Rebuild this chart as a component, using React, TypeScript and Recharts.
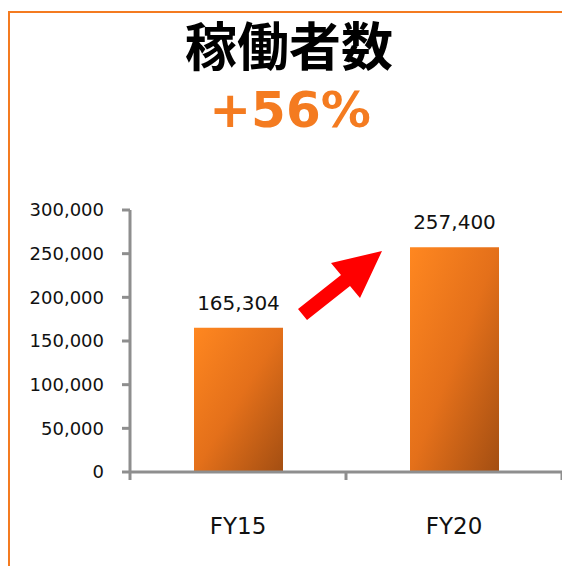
import { BarChart, Bar, XAxis, YAxis, LabelList } from "recharts";

// values
const categories = ["FY15", "FY20"];
const workers = [165304, 257400];
const yTicks = [0, 50000, 100000, 150000, 200000, 250000, 300000];

const title = "稼働者数";
const growth = "+56%";

const data = categories.map((name, i) => ({ name, value: workers[i] }));

const W = 562;
const H = 566;
const plotLeft = 130;
const plotTop = 210;
const plotBottom = 472;
const axisColor = "#8e8e8e";
const font = "'DejaVu Sans', Verdana, sans-serif";

const fmt = (v: number) => v.toLocaleString("en-US");

// x ticks sit on the category boundaries, labels under the centre
function XTick(props: any) {
    const { x, payload, index } = props;
    const band = (W - plotLeft) / categories.length;
    const left = x - band / 2;
    return (
        <g>
            <line x1={left} x2={left} y1={plotBottom} y2={plotBottom + 8} stroke={axisColor} strokeWidth={3} />
            {index === categories.length - 1 && (
                <line x1={left + band} x2={left + band} y1={plotBottom} y2={plotBottom + 8} stroke={axisColor} strokeWidth={3} />
            )}
            <text x={x} y={plotBottom + 62} textAnchor="middle" fontSize={23} fontFamily={font} fill="#111">
                {payload.value}
            </text>
        </g>
    );
}

export default function App() {
    return (
        <div style={{ position: "absolute", left: 0, top: 0, width: W, height: H, overflow: "hidden", background: "#fff" }}>
            {/* orange frame */}
            <div
                style={{
                    position: "absolute",
                    left: 8,
                    top: 11,
                    width: 620,
                    height: 620,
                    border: "2.5px solid #f47b20",
                    boxSizing: "border-box",
                }}
            />
            <div
                style={{
                    position: "absolute",
                    left: 0,
                    width: 578,
                    top: 18,
                    textAlign: "center",
                    fontFamily: "'Noto Sans CJK JP', sans-serif",
                    fontWeight: 700,
                    fontSize: 52,
                    lineHeight: 1,
                    color: "#000",
                }}
            >
                {title}
            </div>
            <div
                style={{
                    position: "absolute",
                    left: 0,
                    width: 580,
                    top: 85,
                    textAlign: "center",
                    fontFamily: font,
                    fontWeight: 700,
                    fontSize: 50,
                    lineHeight: 1,
                    color: "#f47b20",
                }}
            >
                {growth}
            </div>

            <div style={{ position: "absolute", left: 0, top: 0 }}>
                <BarChart
                    width={W}
                    height={H}
                    data={data}
                    margin={{ top: plotTop, right: 0, left: 0, bottom: H - plotBottom - 80 }}
                >
                    <defs>
                        <linearGradient id="barFill" x1="0" y1="0" x2="1" y2="1">
                            <stop offset="0%" stopColor="#ff8720" />
                            <stop offset="50%" stopColor="#e4701a" />
                            <stop offset="100%" stopColor="#a34e12" />
                        </linearGradient>
                    </defs>
                    <YAxis
                        width={plotLeft}
                        domain={[0, 300000]}
                        ticks={yTicks}
                        tickFormatter={fmt}
                        tickSize={8}
                        tickMargin={18}
                        axisLine={{ stroke: axisColor, strokeWidth: 3 }}
                        tickLine={{ stroke: axisColor, strokeWidth: 3 }}
                        tick={{ fill: "#111", fontSize: 18, fontFamily: font }}
                        interval={0}
                    />
                    <XAxis
                        dataKey="name"
                        height={80}
                        tickSize={8}
                        tickMargin={0}
                        tickLine={false}
                        axisLine={{ stroke: axisColor, strokeWidth: 3 }}
                        tick={<XTick />}
                        interval={0}
                    />
                    <Bar dataKey="value" fill="url(#barFill)" barSize={89} isAnimationActive={false}>
                        <LabelList
                            dataKey="value"
                            position="top"
                            offset={18}
                            formatter={(v: any) => fmt(Number(v))}
                            fill="#111"
                            fontSize={20}
                            fontFamily={font}
                        />
                    </Bar>
                </BarChart>
            </div>

            {/* red growth arrow */}
            <svg width={W} height={H} style={{ position: "absolute", left: 0, top: 0, pointerEvents: "none" }}>
                <polygon
                    points="298,309 307,320 350,286 360,298 382,251 331,263 341,275"
                    fill="#ff0000"
                />
            </svg>
        </div>
    );
}
